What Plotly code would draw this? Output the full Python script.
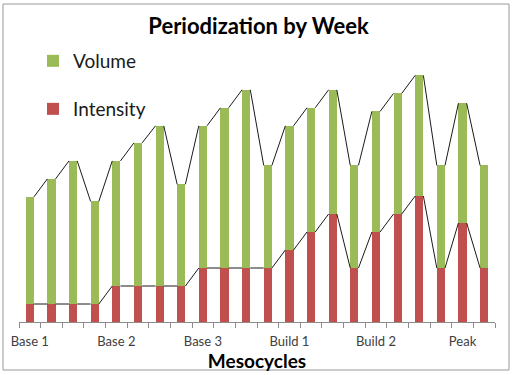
import plotly.graph_objects as go

# ---- data ----
week_index = list(range(22))
tick_positions = [0, 4, 8, 12, 16, 20]
tick_labels = ["Base 1", "Base 2", "Base 3", "Build 1", "Build 2", "Peak"]
intensity = [1, 1, 1, 1, 2, 2, 2, 2, 3, 3, 3, 3, 4, 5, 6, 3, 5, 6, 7, 3, 5.5, 3]
volume = [5.95, 6.95, 7.95, 5.7, 6.95, 7.95, 8.9, 5.65, 7.9, 8.9, 9.9, 5.7,
          6.9, 6.9, 6.9, 5.7, 6.7, 6.7, 6.7, 5.7, 6.65, 5.7]

GREEN = "#9BBB59"
RED = "#C0504D"
BAR_W = 0.38
FONT = "Lato"

total = [a + b for a, b in zip(intensity, volume)]


def series_line(vals):
    xs, ys = [], []
    for i in range(len(vals) - 1):
        xs += [week_index[i] + BAR_W / 2, week_index[i + 1] - BAR_W / 2, None]
        ys += [vals[i], vals[i + 1], None]
    return xs, ys


fig = go.Figure()
fig.add_trace(go.Bar(x=week_index, y=intensity, name="Intensity", marker_color=RED,
                     marker_line_width=0, width=BAR_W, legend="legend2"))
fig.add_trace(go.Bar(x=week_index, y=volume, name="Volume", marker_color=GREEN,
                     marker_line_width=0, width=BAR_W, legend="legend"))

for vals in (intensity, total):
    lx, ly = series_line(vals)
    fig.add_trace(go.Scatter(x=lx, y=ly, mode="lines", showlegend=False,
                             line=dict(color="#1a1a1a", width=1), hoverinfo="skip"))

L, R, T, B = 19, 17, 34, 53
PW, PH = 512 - L - R, 375 - T - B


def px_x(p):
    return (p - L) / PW


def px_y(p):
    return (375 - B - p) / PH


fig.update_layout(
    width=512, height=375,
    margin=dict(l=L, r=R, t=T, b=B),
    paper_bgcolor="white", plot_bgcolor="white",
    barmode="stack",
    title=dict(text="<b>Periodization by Week</b>", x=0.505, xanchor="center",
               y=1 - 26 / 375, yanchor="middle", yref="container",
               font=dict(family=FONT, size=22, color="#000000")),
    font=dict(family=FONT),
    legend=dict(x=px_x(33), y=px_y(61), xanchor="left", yanchor="middle",
                bgcolor="rgba(0,0,0,0)", font=dict(family=FONT, size=19, color="#1a1a1a")),
    legend2=dict(x=px_x(33), y=px_y(109), xanchor="left", yanchor="middle",
                 bgcolor="rgba(0,0,0,0)", font=dict(family=FONT, size=19, color="#1a1a1a")),
    xaxis=dict(range=[-0.5, 21.5], tickvals=tick_positions, ticktext=tick_labels,
               ticks="", showgrid=False, zeroline=False, ticklabelstandoff=7,
               showline=True, linecolor="#8c8c8c", linewidth=1,
               tickfont=dict(family=FONT, size=13, color="#404040"),
               minor=dict(tickvals=[i - 0.5 for i in range(23)], ticks="outside",
                          ticklen=5, tickcolor="#8c8c8c", showgrid=False),
               title=dict(text="<b>Mesocycles</b>", standoff=2,
                          font=dict(family=FONT, size=19, color="#000000"))),
    yaxis=dict(range=[0, 16], visible=False, showgrid=False, zeroline=False),
    shapes=[dict(type="rect", xref="paper", yref="paper",
                 x0=px_x(3), x1=px_x(509), y0=px_y(370), y1=px_y(4),
                 line=dict(color="#999999", width=1), fillcolor="rgba(0,0,0,0)",
                 layer="below")],
    bargap=0,
)

fig.write_html("out.html", config={"displayModeBar": False},
               post_script="document.body.style.margin='0';")
